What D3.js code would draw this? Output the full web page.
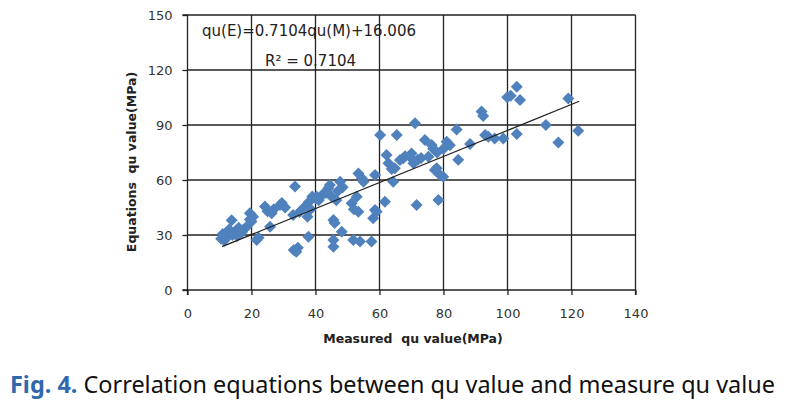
<!DOCTYPE html>
<html><head><meta charset="utf-8">
<script src="https://cdn.jsdelivr.net/npm/d3@7/dist/d3.min.js"></script>
<style>body{margin:0;background:#fff}</style>
</head><body>
<svg id="c" width="791" height="406"></svg>
<script>
// Measured qu value (MPa)
const measured = [10.5,11,11.5,12,12.5,13,13.8,14,15,15.5,16,17,17.5,18.5,19.5,19.5,20,20.5,21.6,22.2,
  24.2,25,25.8,26.3,27,28.9,29.5,30.5,33.6,33,33.2,34.5,34,35,
  36.7,37.8,37.5,38,38.5,39,40,40.4,41,42,42.5,43.5,44,44.5,45,45.6,45.6,45.6,46,46.5,47,47.7,48.2,48.5,
  51.3,51.8,52,52.9,53.4,53.4,53.9,55,54.5,57.5,58,58.6,58.6,59.1,60.2,61.7,
  62.2,62.8,63.8,64.3,64.8,65.4,66.4,67.4,68,69.5,70,70.6,71.1,71.6,72,73,74.2,75.3,76.3,76.8,77.3,77.9,78.4,78.9,79.9,78,80,81,82,
  84.1,84.6,88.3,91.9,92.4,93,94,96,98.7,99.9,101,102.9,103.9,102.9,112,115.9,119,122.1];
// Equations qu value (MPa)
const estimated = [28,30.5,27,31,29,33,38,30,32,29.5,34,31.5,33,34.5,41.8,38.5,37.3,40,27.3,28.5,
  45.5,43,34.5,41.8,44,46.4,47.5,45,56.4,40.9,21.8,23,20.8,42.5,
  45.5,29.1,40,48.2,44,51,50,50.9,49,51.5,52.5,53,55.5,57.3,51,38.2,27.3,23.6,36.5,49,54,59,31.8,56,
  47.3,27.3,44,50.9,42.7,63.6,26.4,59,61,26.4,39.1,62.7,43.6,42.7,84.5,48.2,
  73.6,69.1,66,59.1,66.4,84.5,70.9,71.8,73,72.7,74.5,69.1,90.9,46.4,71,72,81.8,72.7,79.1,77,65.5,66.4,49.1,62.7,61.8,75,77,80.9,79,
  87.6,71.1,79.6,97.3,94.9,84.5,83.6,82.7,82.7,105.1,106,110.9,103.6,85.1,90,80.4,104.5,86.9];
const xTicks = [0,20,40,60,80,100,120,140];
const yTicks = [0,30,60,90,120,150];
const slope = 0.7104, intercept = 16.006;
const fitRange = [10.8, 122.4];
const eqLabel = "qu(E)=0.7104qu(M)+16.006";
const r2Label = "R² = 0.7104";
const xTitle = "Measured\u00a0\u00a0qu value(MPa)";
const yTitle = "Equations\u00a0\u00a0qu value(MPa)";
const capPrefix = "Fig. 4.";
const capText = " Correlation equations between qu value and measure qu value";

const svg = d3.select("#c");
const x = d3.scaleLinear().domain([0,140]).range([187.5,635.5]);
const y = d3.scaleLinear().domain([0,150]).range([290,15]);
const ink = "#222";
const tickFont = "'DejaVu Sans', sans-serif";

// gridlines
const g = svg.append("g");
g.selectAll("line.h").data(yTicks.filter(d=>d>0)).join("line")
  .attr("x1", x(0)).attr("x2", x(140)).attr("y1", d=>y(d)).attr("y2", d=>y(d))
  .attr("stroke", ink).attr("stroke-width", 1.3);
g.selectAll("line.v").data(xTicks.filter(d=>d>0)).join("line")
  .attr("x1", d=>x(d)).attr("x2", d=>x(d)).attr("y1", y(0)).attr("y2", y(150))
  .attr("stroke", ink).attr("stroke-width", 1.3);

// axes
const xAxis = svg.append("g").attr("transform", `translate(0,${y(0)})`)
  .call(d3.axisBottom(x).tickValues(xTicks).tickSize(5).tickPadding(14));
const yAxis = svg.append("g").attr("transform", `translate(${x(0)},0)`)
  .call(d3.axisLeft(y).tickValues(yTicks).tickSize(5).tickPadding(10));
[xAxis, yAxis].forEach(a => {
  a.selectAll("path,line").attr("stroke", ink).attr("stroke-width", 1.3);
  a.selectAll("text").attr("fill", "#333").style("font-family", tickFont).style("font-size", "13px");
});
yAxis.select(".domain").attr("d", `M-5,${y(150)}H0V${y(0)}H-5`);
xAxis.select(".domain").attr("d", `M${x(0)},5V0H${x(140)}V5`);

// points
const pts = measured.map((m,i)=>({m, e: estimated[i]}));
svg.append("g").selectAll("path").data(pts).join("path")
  .attr("d", d3.symbol(d3.symbolSquare, 72))
  .attr("transform", d=>`translate(${x(d.m)},${y(d.e)}) rotate(45)`)
  .attr("fill", "#4f81bd");

// trend line
svg.append("line")
  .attr("x1", x(fitRange[0])).attr("y1", y(slope*fitRange[0]+intercept))
  .attr("x2", x(fitRange[1])).attr("y2", y(slope*fitRange[1]+intercept))
  .attr("stroke", ink).attr("stroke-width", 1.3);

// equation labels
svg.append("text").attr("x", 202).attr("y", 36).text(eqLabel)
  .style("font-family", tickFont).style("font-size", "15px").attr("fill", "#222");
svg.append("text").attr("x", 265).attr("y", 66).text(r2Label)
  .style("font-family", tickFont).style("font-size", "15px").attr("fill", "#222");

// axis titles
svg.append("text").attr("x", 413).attr("y", 343).attr("text-anchor", "middle").text(xTitle)
  .style("font-family", tickFont).style("font-size", "12.5px").style("font-weight", "bold").attr("fill", "#222");
svg.append("text").attr("transform", "translate(136,162) rotate(-90)").attr("text-anchor", "middle").text(yTitle)
  .style("font-family", tickFont).style("font-size", "12.5px").style("font-weight", "bold").attr("fill", "#222");

// caption
const cap = svg.append("text").attr("x", 10).attr("y", 393)
  .attr("textLength", 765).attr("lengthAdjust", "spacingAndGlyphs")
  .style("font-family", "'Noto Sans', sans-serif").style("font-size", "24px");
cap.append("tspan").attr("fill", "#2f68ad").style("font-weight", "bold").text(capPrefix);
cap.append("tspan").attr("fill", "#111").text(capText);
</script>
</body></html>
